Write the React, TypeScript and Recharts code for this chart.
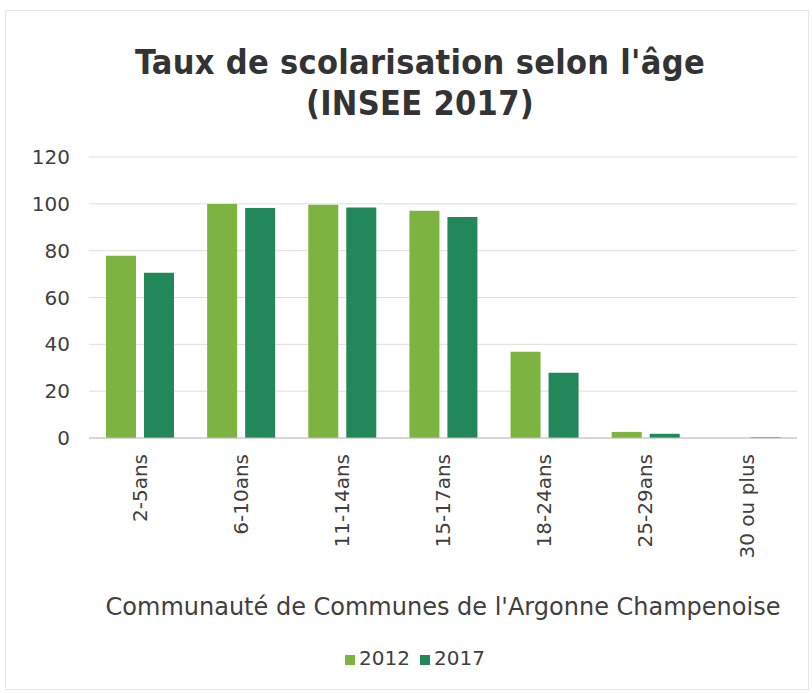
import { BarChart, Bar, XAxis, YAxis, CartesianGrid, Legend, Label } from "recharts";

const ageGroups = ["2-5ans", "6-10ans", "11-14ans", "15-17ans", "18-24ans", "25-29ans", "30 ou plus"];
const rate2012 = [77.8, 99.9, 99.6, 97, 36.8, 2.6, 0];
const rate2017 = [70.6, 98.2, 98.4, 94.4, 27.9, 1.8, 0.3];
const yTicks = [0, 20, 40, 60, 80, 100, 120];

const chartData = ageGroups.map((age, i) => ({
  age,
  y2012: rate2012[i],
  y2017: rate2017[i],
}));

const font = "'DejaVu Sans', sans-serif";
const textColor = "#404040";

const AgeTick = (props: any) => {
  const { x, y, payload } = props;
  return (
    <text
      x={x}
      y={y}
      transform={`rotate(-90 ${x} ${y})`}
      textAnchor="end"
      dy="0.36em"
      fontSize={20}
      fontFamily={font}
      fill={textColor}
    >
      {payload.value}
    </text>
  );
};

export default function App() {
  return (
    <div
      style={{
        position: "absolute",
        left: 0,
        top: 0,
        width: 812,
        height: 693,
        background: "#fff",
      }}
    >
      <div
        style={{
          position: "absolute",
          left: 5,
          top: 10,
          width: 804,
          height: 680,
          border: "1px solid #e6e6e6",
          boxSizing: "border-box",
        }}
      />
      <div
        style={{
          position: "absolute",
          left: 0,
          top: 42,
          width: 840,
          textAlign: "center",
          fontFamily: "'DejaVu Sans Condensed', 'DejaVu Sans', sans-serif",
          fontWeight: "bold",
          fontSize: 34,
          lineHeight: "41px",
          color: "#333",
          letterSpacing: 0.3,
        }}
      >
        Taux de scolarisation selon l'âge
        <br />
        (INSEE 2017)
      </div>
      <BarChart
        width={812}
        height={693}
        data={chartData}
        margin={{ top: 157, right: 15, bottom: 0, left: 0 }}
        barSize={30}
        barGap={8}
        style={{ position: "absolute", left: 0, top: 0 }}
      >
        <CartesianGrid vertical={false} stroke="#dedede" />
        <XAxis
          dataKey="age"
          height={255}
          tick={<AgeTick />}
          tickLine={false}
          tickSize={0}
          tickMargin={16}
          interval={0}
          axisLine={{ stroke: "#bfbfbf" }}
        >
          <Label
            value="Communauté de Communes de l'Argonne Champenoise"
            position="insideBottom"
            offset={78}
            fontSize={24}
            fontFamily={font}
            fill={textColor}
          />
        </XAxis>
        <YAxis
          width={89}
          domain={[0, 120]}
          ticks={yTicks}
          axisLine={false}
          tickLine={false}
          tickSize={0}
          tickMargin={19}
          tick={{ fontSize: 20, fontFamily: font, fill: textColor }}
        />
        <Legend
          layout="horizontal"
          align="center"
          verticalAlign="middle"
          iconType="square"
          iconSize={10}
          wrapperStyle={{ top: 646, left: 0, width: 840, fontFamily: font, fontSize: 20 }}
          formatter={(value: string) => <span style={{ color: textColor }}>{value}</span>}
        />
        <Bar dataKey="y2012" name="2012" fill="#7db441" isAnimationActive={false} />
        <Bar dataKey="y2017" name="2017" fill="#22885a" isAnimationActive={false} />
      </BarChart>
    </div>
  );
}
